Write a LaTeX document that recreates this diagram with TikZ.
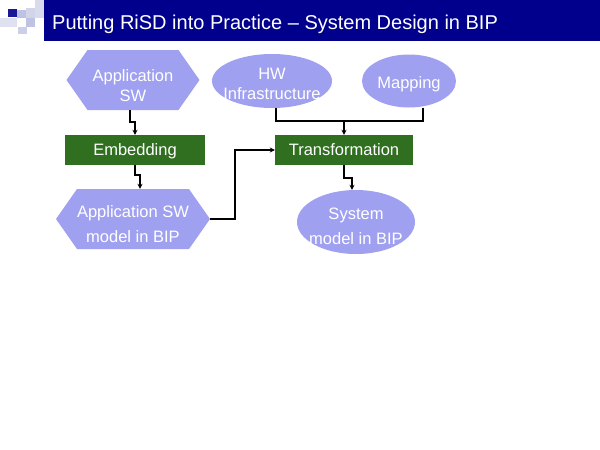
\documentclass[tikz,border=0pt]{standalone}
\usepackage{fontspec}
\setmainfont{Liberation Sans}
\usetikzlibrary{arrows.meta,shapes,positioning,calc}
\definecolor{navy}{RGB}{0,0,140}
\definecolor{lav}{RGB}{160,160,240}
\definecolor{leaf}{RGB}{47,111,31}
\definecolor{tile}{RGB}{190,195,225}
% text block lowered by #1, taking no room in its shape
\newcommand\shapetext[2]{\raisebox{-#1}[0pt][0pt]{\makebox[0pt]{\begin{tabular}{@{}c@{}}#2\end{tabular}}}}

\begin{document}
\begin{tikzpicture}[x=1pt,y=-1pt,
  hexa/.style={signal,signal to=east and west,signal pointer angle=110,fill=lav,
    text=white,inner sep=0pt,minimum width=#1,minimum height=60pt,
    font=\fontsize{16.5}{20}\selectfont},
  oval/.style={ellipse,fill=lav,text=white,inner sep=0pt,
    font=\fontsize{16.5}{20}\selectfont},
  stepbox/.style={rectangle,fill=leaf,text=white,minimum width=140pt,
    minimum height=30pt,inner sep=0pt,text depth=0pt,font=\fontsize{16.5}{18}\selectfont},
  arr/.style={line width=1.8pt,-{Stealth[length=5pt,width=5pt]}},
  ln/.style={line width=1.8pt}]
\useasboundingbox (0,0) rectangle (600,450);

% title bar
\fill[navy] (44,0) rectangle (600,41);
\fill[tile] (17,10) rectangle (26,18);
\fill[tile!70] (26,8) rectangle (35,18);
\fill[tile!60] (35,0) rectangle (44,18);
\fill[tile] (26,18) rectangle (35,27);
\fill[tile!80] (18,27) rectangle (27,34);
\fill[tile!50] (0,18) rectangle (17,27);
\fill[navy!90] (8,9) rectangle (17,17);
\node[text=white,anchor=west,inner sep=0pt,font=\fontsize{20}{24}\selectfont] (title)
  at (52,24) {Putting RiSD into Practice -- System Design in BIP};

% nodes
\node[hexa=133pt] (appsw) at (133,80) {\shapetext{12pt}{Application\\SW}};
\node[stepbox] (embed) at (135,150) {Embedding};
\node[hexa=154pt,font=\fontsize{16.5}{25}\selectfont] (appmodel) at (133,219)
  {\shapetext{10pt}{Application SW\\model in BIP}};
\node[stepbox,minimum width=138pt] (transform) at (344,150) {Transformation};
\node[oval,minimum width=120pt,minimum height=54pt] (hw) at (272,81)
  {\shapetext{9pt}{HW\\Infrastructure}};
\node[oval,minimum width=94pt,minimum height=53pt] (map) at (409,81)
  {\shapetext{7.5pt}{Mapping}};
\node[oval,minimum width=118pt,minimum height=64pt,font=\fontsize{16.5}{25}\selectfont]
  (system) at (356,222) {\shapetext{9.5pt}{System\\model in BIP}};
\coordinate (join) at ($(transform.north)+(0,-14)$);

% connectors
\draw[arr] ([xshift=-3pt]appsw.south) -- ++(0,12) -| (embed.north);
\draw[arr] (embed.south) -- ++(0,10) -| ([xshift=7pt]appmodel.north);
\draw[arr] (appmodel.east) -- ++(25,0) |- (transform.west);
\draw[ln] ([xshift=4pt]hw.south) |- (join);
\draw[ln] ([xshift=14pt]map.south) |- (join);
\draw[arr] (join) -- (transform.north);
\draw[arr] (transform.south) -- ++(0,13) -| ([xshift=-4pt]system.north);
\end{tikzpicture}
\end{document}
